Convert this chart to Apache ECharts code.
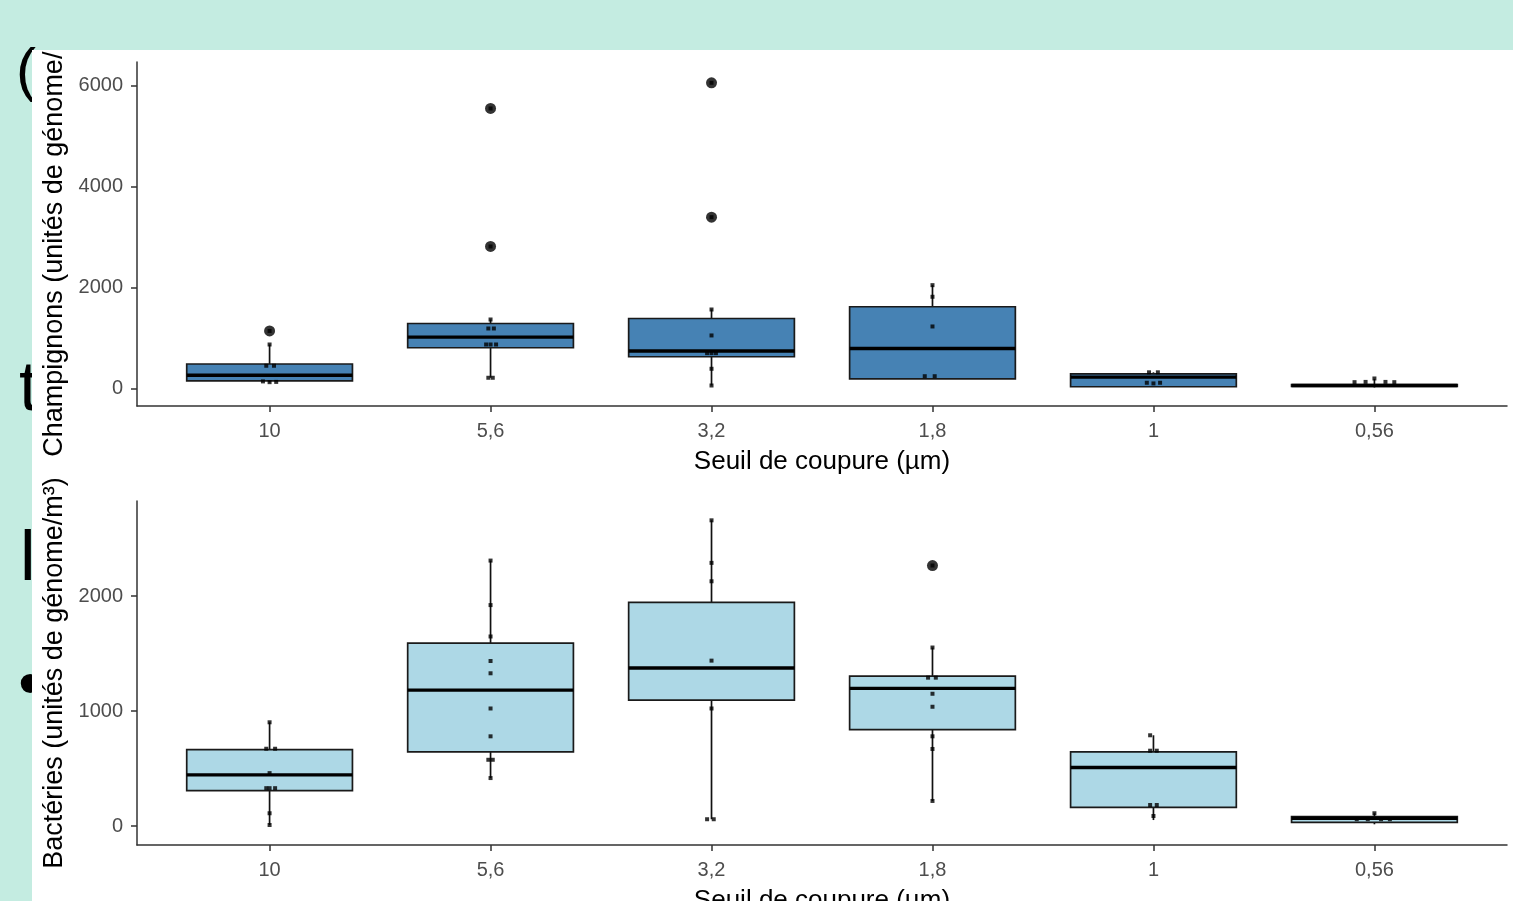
<!DOCTYPE html>
<html>
<head>
<meta charset="utf-8">
<script src="https://cdn.jsdelivr.net/npm/echarts@6/dist/echarts.min.js"></script>
<style>
  html, body { margin:0; padding:0; }
  body { width:1513px; height:901px; overflow:hidden; position:relative; background:#c4ece1; font-family:"Liberation Sans", Arial, sans-serif; }
  .glyph { position:absolute; color:#000; line-height:1; font-family:"Liberation Sans", Arial, sans-serif; white-space:nowrap; }
  #chart { position:absolute; left:32px; top:50px; width:1481px; height:851px; background:#fff; }
</style>
</head>
<body>
<div class="glyph" style="left:16px; top:40px; font-size:60px;">(</div>
<div class="glyph" style="left:19px; top:351px; font-size:70px;">t</div>
<div class="glyph" style="left:20px; top:521px; font-size:70px;">l</div>
<div class="glyph" style="left:18px; top:648px; font-size:70px;">•</div>
<div id="chart"></div>
<script>
// ---------------- data ----------------
const categories = ['10', '5,6', '3,2', '1,8', '1', '0,56'];
const xTitle = 'Seuil de coupure (µm)';
const yTitleChamp = 'Champignons (unités de génome/m³)';
const yTitleBact = 'Bactéries (unités de génome/m³)';
const yTicksChamp = [0, 2000, 4000, 6000];
const yTicksBact = [0, 1000, 2000];

// box stats per category: [lower whisker, Q1, median, Q3, upper whisker]
const champBoxes = [
  [119, 149, 263, 485, 871],
  [212, 806, 1016, 1287, 1366],
  [59, 628, 743, 1386, 1564],
  [192, 192, 792, 1618, 2046],
  [30, 34, 224, 291, 320],
  [20, 40, 60, 75, 190]
];
// outliers: [category position, value]
const champOutliers = [[1, 1139], [2, 2812], [2, 5545], [3, 3392], [3, 6053]];
// individual (jittered) observations: [category position, value]
const champPoints = [
  [1, 871], [0.985, 450], [1.02, 450], [0.97, 140], [1.0, 125], [1.03, 130], [1, 1139],
  [2, 1366], [1.99, 1188], [2.015, 1188], [1.98, 871], [2.0, 871], [2.025, 871], [1.99, 212], [2.01, 212], [2, 2812], [2, 5545],
  [3, 1564], [3, 1050], [2.98, 700], [3.0, 700], [3.02, 700], [3, 390], [3, 59], [3, 3392], [3, 6053],
  [4, 2046], [4, 1816], [4, 1228], [3.965, 243], [4.01, 243],
  [4.98, 320], [5.02, 320], [4.97, 113], [5.0, 100], [5.03, 113],
  [5.91, 125], [5.96, 130], [6.0, 198], [6.05, 130], [6.09, 125]
];

const bactBoxes = [
  [9, 308, 445, 664, 902],
  [417, 644, 1182, 1590, 2308],
  [59, 1094, 1374, 1945, 2658],
  [218, 838, 1197, 1304, 1552],
  [52, 163, 509, 644, 789],
  [15, 32, 67, 81, 111]
];
const bactOutliers = [[4, 2265]];
const bactPoints = [
  [1, 902], [0.985, 672], [1.025, 672], [1, 460], [0.985, 329], [1.0, 329], [1.025, 329], [1, 111], [1, 9],
  [2, 2308], [2, 1921], [2, 1648], [2, 1435], [2, 1328], [2, 1022], [2, 780], [1.99, 576], [2.01, 576], [2, 417],
  [3, 2658], [3, 2288], [3, 2128], [3, 1438], [3, 1022], [2.98, 59], [3.01, 59],
  [4, 2265], [4, 1552], [3.98, 1290], [4.015, 1290], [4, 1150], [4, 1037], [4, 780], [4, 670], [4, 218],
  [4.985, 789], [4.985, 655], [5.015, 655], [4.985, 183], [5.015, 183], [5, 87],
  [5.92, 59], [5.97, 59], [6.0, 111], [6.03, 59], [6.07, 59]
];

// ---------------- chart ----------------
const FONT = '"Liberation Sans", Arial, sans-serif';
const AXIS_COLOR = '#333333';
const catPositions = categories.map((c, i) => i + 1);

function boxData(boxes) {
  return boxes.map((b, i) => [catPositions[i]].concat(b));
}

function boxRenderer(fill) {
  return function (params, api) {
    const x = api.value(0);
    const pLo = api.coord([x, api.value(1)]);
    const pQ1 = api.coord([x, api.value(2)]);
    const pMed = api.coord([x, api.value(3)]);
    const pQ3 = api.coord([x, api.value(4)]);
    const pHi = api.coord([x, api.value(5)]);
    const half = api.size([0.75, 0])[0] / 2;
    const lw = 1.7;
    return {
      type: 'group',
      children: [
        { type: 'line', shape: { x1: pLo[0], y1: pLo[1], x2: pQ1[0], y2: pQ1[1] }, style: { stroke: '#111', lineWidth: lw } },
        { type: 'line', shape: { x1: pQ3[0], y1: pQ3[1], x2: pHi[0], y2: pHi[1] }, style: { stroke: '#111', lineWidth: lw } },
        { type: 'rect', shape: { x: pQ1[0] - half, y: pQ3[1], width: 2 * half, height: Math.max(pQ1[1] - pQ3[1], 0.5) },
          style: { fill: fill, stroke: '#1a1a1a', lineWidth: lw } },
        { type: 'line', shape: { x1: pMed[0] - half, y1: pMed[1], x2: pMed[0] + half, y2: pMed[1] },
          style: { stroke: '#000', lineWidth: 3.4 } }
      ]
    };
  };
}

function makeX(gridIndex) {
  return {
    type: 'value', gridIndex: gridIndex, min: 0.4, max: 6.6,
    axisLine: { show: true, onZero: false, lineStyle: { color: AXIS_COLOR, width: 1.5 } },
    axisTick: { show: true, customValues: catPositions, length: 6, lineStyle: { color: AXIS_COLOR, width: 1.5 } },
    axisLabel: { customValues: catPositions, formatter: v => categories[Math.round(v) - 1], color: '#4d4d4d',
      fontSize: 20, fontFamily: FONT, margin: 15 },
    splitLine: { show: false },
    name: xTitle, nameLocation: 'middle', nameGap: 43,
    nameTextStyle: { color: '#000', fontSize: 26, fontFamily: FONT }
  };
}

function makeY(gridIndex, min, max, ticks, title) {
  return {
    type: 'value', gridIndex: gridIndex, min: min, max: max,
    axisLine: { show: true, onZero: false, lineStyle: { color: AXIS_COLOR, width: 1.5 } },
    axisTick: { show: true, customValues: ticks, length: 6, lineStyle: { color: AXIS_COLOR, width: 1.5 } },
    axisLabel: { customValues: ticks, formatter: v => String(v), color: '#4d4d4d', fontSize: 20, fontFamily: FONT, margin: 14 },
    splitLine: { show: false },
    name: title, nameLocation: 'middle', nameGap: 51,
    nameTextStyle: { color: '#000', fontSize: 27, fontFamily: FONT }
  };
}

const chart = echarts.init(document.getElementById('chart'), null, { renderer: 'canvas' });
chart.setOption({
  animation: false,
  backgroundColor: '#ffffff',
  grid: [
    { left: 105, right: 6, top: 12, height: 344, containLabel: false, outerBoundsMode: 'none' },
    { left: 105, right: 6, top: 451, height: 344, containLabel: false, outerBoundsMode: 'none' }
  ],
  xAxis: [makeX(0), makeX(1)],
  yAxis: [
    makeY(0, -347, 6465, yTicksChamp, yTitleChamp),
    makeY(1, -165, 2826, yTicksBact, yTitleBact)
  ],
  series: [
    { type: 'custom', xAxisIndex: 0, yAxisIndex: 0, renderItem: boxRenderer('#4682B4'), data: boxData(champBoxes), z: 2,
      encode: { x: 0, y: [1, 2, 3, 4, 5] } },
    { type: 'scatter', xAxisIndex: 0, yAxisIndex: 0, data: champOutliers, symbol: 'circle', symbolSize: 11,
      itemStyle: { color: '#000' }, z: 3 },
    { type: 'scatter', xAxisIndex: 0, yAxisIndex: 0, data: champPoints, symbol: 'rect', symbolSize: 4,
      itemStyle: { color: '#000' }, z: 4 },
    { type: 'custom', xAxisIndex: 1, yAxisIndex: 1, renderItem: boxRenderer('#ADD8E6'), data: boxData(bactBoxes), z: 2,
      encode: { x: 0, y: [1, 2, 3, 4, 5] } },
    { type: 'scatter', xAxisIndex: 1, yAxisIndex: 1, data: bactOutliers, symbol: 'circle', symbolSize: 11,
      itemStyle: { color: '#000' }, z: 3 },
    { type: 'scatter', xAxisIndex: 1, yAxisIndex: 1, data: bactPoints, symbol: 'rect', symbolSize: 4,
      itemStyle: { color: '#000' }, z: 4 }
  ]
});
</script>
</body>
</html>
